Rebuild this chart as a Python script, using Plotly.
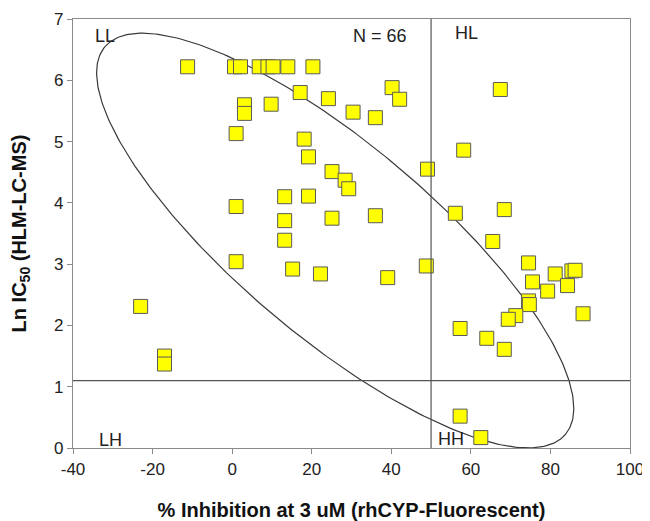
import numpy as np
import plotly.graph_objects as go

# % inhibition at 3 uM (rhCYP-Fluorescent)
inhibition = [-11.2, 0.6, 2.1, 6.8, 9.0, 10.3, 14.0, 20.3,
              3.1, 3.1, 1.0, 1.0, 17.1, 24.2, 40.2, 42.1, 30.4, 36.0, 9.8,
              18.1, 19.2, 25.1, 28.4, 29.3, 49.1, 13.2, 19.2, 13.2, 25.1, 36.0,
              56.1, 67.4, 58.2, 68.4, 1.0, -23.0, -17.0, -17.0, 13.2, 15.2,
              22.2, 39.1, 48.8, 65.5, 74.5, 81.2, 85.4, 86.2, 75.5, 79.3,
              84.3, 74.5, 74.7, 71.3, 69.4, 88.2, 57.3, 64.0, 68.4, 57.3, 62.5]
# Ln IC50 (HLM-LC-MS)
ln_ic50 = [6.22, 6.22, 6.22, 6.22, 6.22, 6.22, 6.22, 6.22,
           5.60, 5.46, 5.13, 3.94, 5.80, 5.70, 5.88, 5.69, 5.48, 5.39, 5.61,
           5.04, 4.75, 4.51, 4.37, 4.23, 4.55, 4.10, 4.11, 3.71, 3.75, 3.79,
           3.83, 5.85, 4.86, 3.89, 3.04, 2.31, 1.50, 1.37, 3.39, 2.92,
           2.84, 2.78, 2.97, 3.37, 3.02, 2.84, 2.89, 2.90, 2.71, 2.56,
           2.65, 2.40, 2.34, 2.16, 2.10, 2.19, 1.95, 1.79, 1.61, 0.52, 0.17]

x_ticks = [-40, -20, 0, 20, 40, 60, 80, 100]
y_ticks = [0, 1, 2, 3, 4, 5, 6, 7]

quad_labels = ["LL", "HL", "LH", "HH", "N = 66"]
quad_x = [-32.0, 59.0, -30.5, 55.0, 37.2]
quad_y = [6.73, 6.77, 0.13, 0.14, 6.72]

cut_x = 50
cut_y = 1.1

# ellipse (data units): centre, semi-major and semi-minor vectors
ell_center = (25.9, 3.385)
ell_major = (57.9, -3.16)
ell_minor = (15.6, 1.21)

FONT = "Liberation Sans, Arial, sans-serif"
AX = "#8a8a8a"

fig = go.Figure()

t = np.linspace(0, 2 * np.pi, 361)
ex = ell_center[0] + ell_major[0] * np.cos(t) + ell_minor[0] * np.sin(t)
ey = ell_center[1] + ell_major[1] * np.cos(t) + ell_minor[1] * np.sin(t)
fig.add_trace(go.Scatter(x=ex, y=ey, mode="lines",
                         line=dict(color="#3a3a3a", width=1.2),
                         hoverinfo="skip", showlegend=False))

fig.add_trace(go.Scatter(x=inhibition, y=ln_ic50, mode="markers",
                         marker=dict(symbol="square", size=14, color="#ffff00",
                                     line=dict(color="#5a5a5a", width=1)),
                         showlegend=False))

fig.add_shape(type="line", x0=cut_x, x1=cut_x, y0=0, y1=7, xref="x", yref="y",
              line=dict(color="#555555", width=1.2))
fig.add_shape(type="line", x0=-40, x1=100, y0=cut_y, y1=cut_y, xref="x", yref="y",
              line=dict(color="#555555", width=1.2))

for lab, lx, ly in zip(quad_labels, quad_x, quad_y):
    fig.add_annotation(x=lx, y=ly, text=lab, showarrow=False, xref="x", yref="y",
                       font=dict(family=FONT, size=18, color="#222222"))

fig.update_xaxes(range=[-40, 100], tickvals=x_ticks, ticktext=[str(v) for v in x_ticks],
                 showgrid=False, zeroline=False, showline=True, linecolor=AX, linewidth=1.2,
                 mirror=True, ticks="outside", ticklen=5, tickcolor=AX, automargin=False,
                 tickfont=dict(family=FONT, size=17, color="#222222"),
                 title=dict(text="<b>% Inhibition at 3 uM (rhCYP-Fluorescent)</b>",
                            font=dict(family=FONT, size=20, color="#111111"), standoff=32))
fig.update_yaxes(range=[0, 7], tickvals=y_ticks, ticktext=[str(v) for v in y_ticks],
                 showgrid=False, zeroline=False, showline=True, linecolor=AX, linewidth=1.2,
                 mirror=True, ticks="outside", ticklen=5, tickcolor=AX, automargin=False,
                 tickfont=dict(family=FONT, size=17, color="#222222"),
                 title=dict(text="<b>Ln IC<sub>50</sub> (HLM-LC-MS)</b>",
                            font=dict(family=FONT, size=20, color="#111111"), standoff=24))

# the page body has an 8px margin, so the figure is offset by 8px
fig.update_layout(width=642, height=513, margin=dict(l=65, r=20, t=11, b=73),
                  plot_bgcolor="white", paper_bgcolor="white")

fig.write_html("out.html")
